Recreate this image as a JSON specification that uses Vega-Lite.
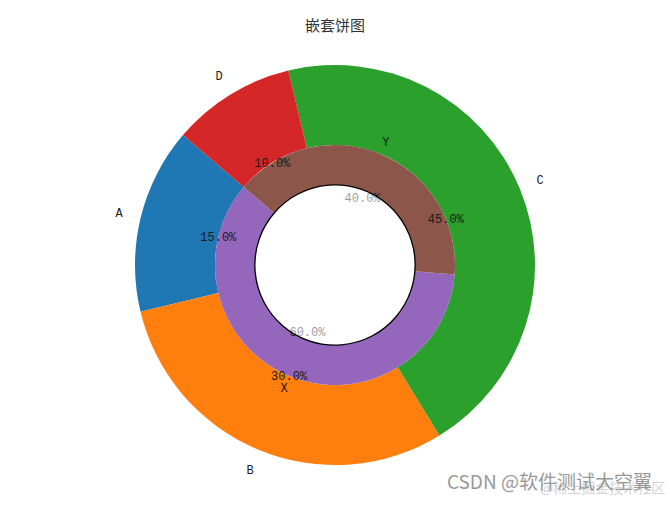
{
  "$schema": "https://vega.github.io/schema/vega-lite/v6.json",
  "width": 670,
  "height": 460,
  "padding": {"top": 19, "left": 0, "right": 0, "bottom": 0},
  "background": "white",
  "view": {"stroke": null},
  "title": {
    "text": "嵌套饼图",
    "font": "Noto Sans CJK SC",
    "fontSize": 15,
    "fontWeight": "normal",
    "color": "#333333",
    "offset": 1
  },
  "datasets": {
    "outer": [
      {"label": "A", "share": 0.15},
      {"label": "B", "share": 0.30},
      {"label": "C", "share": 0.45},
      {"label": "D", "share": 0.10}
    ],
    "inner": [
      {"label": "X", "share": 0.60},
      {"label": "Y", "share": 0.40}
    ],
    "hole": [
      {"share": 1}
    ],
    "marks": [
      {"text": "CSDN @软件测试大空翼", "px": 0.973, "py": 0.013}
    ],
    "marks2": [
      {"text": "@稀土掘金技术社区", "px": 0.993, "py": 0.005}
    ]
  },
  "config": {
    "text": {"font": "Liberation Mono", "fontSize": 12, "color": "#1a1a1a"}
  },
  "layer": [
    {
      "data": {"name": "outer"},
      "mark": {"type": "arc", "outerRadius": 200, "innerRadius": 120},
      "encoding": {
        "theta": {"field": "share", "type": "quantitative", "stack": true,
          "scale": {"range": [-0.86394, 5.41925]}},
        "order": {"field": "label", "sort": "descending"},
        "color": {"field": "label", "type": "nominal", "legend": null,
          "scale": {"domain": ["A", "B", "C", "D", "X", "Y"],
            "range": ["#1f77b4", "#ff7f0e", "#2ca02c", "#d62728", "#9467bd", "#8c564b"]}}
      }
    },
    {
      "data": {"name": "inner"},
      "mark": {"type": "arc", "outerRadius": 120, "innerRadius": 80},
      "encoding": {
        "theta": {"field": "share", "type": "quantitative", "stack": true},
        "order": {"field": "label", "sort": "descending"},
        "color": {"field": "label", "type": "nominal", "legend": null}
      }
    },
    {
      "data": {"name": "outer"},
      "mark": {"type": "text", "radius": 222, "align": "center", "baseline": "middle"},
      "encoding": {
        "theta": {"field": "share", "type": "quantitative", "stack": true},
        "order": {"field": "label", "sort": "descending"},
        "text": {"field": "label"}
      }
    },
    {
      "data": {"name": "outer"},
      "mark": {"type": "text", "radius": 120, "align": "center", "baseline": "middle"},
      "encoding": {
        "theta": {"field": "share", "type": "quantitative", "stack": true},
        "order": {"field": "label", "sort": "descending"},
        "text": {"field": "share", "type": "quantitative", "format": ".1%"}
      }
    },
    {
      "data": {"name": "inner"},
      "mark": {"type": "text", "radius": 133, "align": "center", "baseline": "middle"},
      "encoding": {
        "theta": {"field": "share", "type": "quantitative", "stack": true},
        "order": {"field": "label", "sort": "descending"},
        "text": {"field": "label"}
      }
    },
    {
      "data": {"name": "inner"},
      "mark": {"type": "text", "radius": 72, "align": "center", "baseline": "middle"},
      "encoding": {
        "theta": {"field": "share", "type": "quantitative", "stack": true},
        "order": {"field": "label", "sort": "descending"},
        "text": {"field": "share", "type": "quantitative", "format": ".1%"}
      }
    },
    {
      "data": {"name": "hole"},
      "mark": {"type": "arc", "outerRadius": 80, "innerRadius": 0, "fill": "white",
        "fillOpacity": 0.55, "stroke": "black", "strokeWidth": 1.3, "strokeOpacity": 1},
      "encoding": {
        "theta": {"field": "share", "type": "quantitative", "stack": true}
      }
    },
    {
      "data": {"name": "marks2"},
      "mark": {"type": "text", "font": "Noto Sans CJK SC", "fontSize": 14, "align": "right",
        "baseline": "alphabetic", "color": "#d4d4d4"},
      "encoding": {
        "x": {"field": "px", "type": "quantitative", "axis": null,
          "scale": {"domain": [0, 1], "nice": false, "zero": false}},
        "y": {"field": "py", "type": "quantitative", "axis": null,
          "scale": {"domain": [0, 1], "nice": false, "zero": false}},
        "text": {"field": "text"}
      }
    },
    {
      "data": {"name": "marks"},
      "mark": {"type": "text", "font": "Noto Sans CJK SC", "fontSize": 19, "align": "right",
        "baseline": "alphabetic", "color": "#999999"},
      "encoding": {
        "x": {"field": "px", "type": "quantitative"},
        "y": {"field": "py", "type": "quantitative"},
        "text": {"field": "text"}
      }
    }
  ]
}
